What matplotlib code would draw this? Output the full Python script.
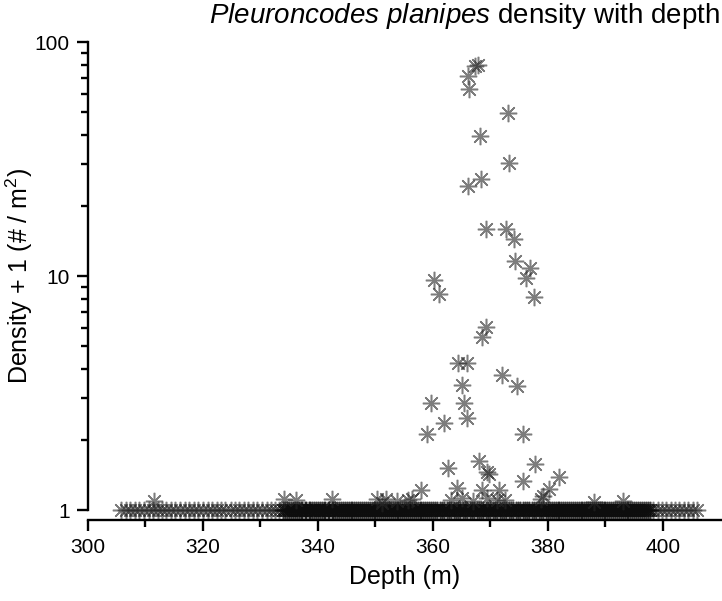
import numpy as np
import matplotlib
matplotlib.use('Agg')
import matplotlib.pyplot as plt

plt.rcParams['font.family'] = ['Liberation Sans', 'DejaVu Sans']
plt.rcParams['mathtext.fontset'] = 'custom'
plt.rcParams['mathtext.rm'] = 'Liberation Sans'
plt.rcParams['mathtext.it'] = 'Liberation Sans:italic'

# stations with no animals (density + 1 = 1)
zero_depth_shallow = [305.8, 306.6, 307.3, 308.2, 308.9, 309.7, 310.6, 311.3, 312.1, 312.9,
                      313.6, 314.5, 315.2, 316.0, 316.9, 317.6, 318.4, 319.2, 320.0, 320.8,
                      321.5, 322.4, 323.1, 323.9, 324.8, 325.5, 326.3, 327.1, 327.8, 328.7,
                      329.4, 330.2, 331.1, 331.8, 332.6, 333.3]
zero_depth_mid = [334.0, 334.3, 334.7, 335.0, 335.4, 335.7, 336.0, 336.4, 336.7, 337.0,
                  337.3, 337.7, 338.0, 338.4, 338.7, 339.0, 339.3, 339.7, 340.0, 340.4,
                  340.7, 341.0, 341.3, 341.7, 342.0, 342.4, 342.7, 343.0, 343.4, 343.7,
                  344.0, 344.3, 344.7, 345.0, 345.4, 345.7, 346.0, 346.3, 346.7, 347.0,
                  347.4, 347.7, 348.0, 348.3, 348.7, 349.0, 349.4, 349.7, 350.0, 350.3,
                  350.7, 351.0, 351.4, 351.7, 352.0, 352.3, 352.7, 353.0, 353.4, 353.7,
                  354.0, 354.3, 354.7, 355.0, 355.4, 355.7, 356.0, 356.3, 356.7, 357.0,
                  357.4, 357.7, 358.0, 358.3, 358.7, 359.0, 359.4, 359.7, 360.0, 360.4,
                  360.8, 361.2, 361.6, 362.0, 362.4, 362.8, 363.2, 363.6, 364.0, 364.4,
                  364.8, 365.2, 365.6, 366.0, 366.4, 366.8, 367.2, 367.6, 368.0, 368.4,
                  368.8, 369.2, 369.6, 370.0, 370.4, 370.8, 371.2, 371.6, 372.0, 372.4,
                  372.8, 373.2, 373.6, 374.0, 374.4, 374.8, 375.2, 375.6, 376.0, 376.4,
                  376.8, 377.2, 377.6, 378.0, 378.4, 378.8, 379.2, 379.6, 380.0, 380.3,
                  380.7, 381.0, 381.4, 381.7, 382.0, 382.3, 382.7, 383.0, 383.4, 383.7,
                  384.0, 384.3, 384.7, 385.0, 385.4, 385.7, 386.0, 386.3, 386.7, 387.0,
                  387.4, 387.7, 388.0, 388.3, 388.7, 389.0, 389.4, 389.7, 390.0, 390.3,
                  390.7, 391.0, 391.4, 391.7, 392.0, 392.3, 392.7, 393.0, 393.4, 393.7,
                  394.0, 394.3, 394.7, 395.0, 395.4, 395.7, 396.0, 396.3, 396.7, 397.0,
                  397.4, 397.7]
zero_depth_deep = [398.3, 399.1, 399.8, 400.6, 401.4, 402.1, 402.9, 403.7, 404.4, 405.2, 406.0]

# stations with animals
depth = [367.4, 367.8, 366.1, 366.3, 373.0, 368.2, 373.2, 368.3, 366.1, 369.2,
         372.7, 374.1, 374.3, 376.9, 376.2, 377.6, 360.2, 361.0, 369.2, 368.5,
         364.3, 365.9, 372.0, 374.6, 365.0, 359.7, 365.4, 365.9, 361.9, 359.0,
         375.7, 362.6, 368.0, 369.4, 369.7, 377.7, 375.6, 382.0, 380.2, 379.1,
         378.8, 388.0, 393.0, 357.9, 356.3, 364.2, 363.1, 365.0, 367.0, 368.5,
         369.4, 371.5, 371.1, 372.5, 311.5, 334.1, 336.2, 342.4, 350.3, 351.1,
         351.8, 353.7, 355.6]
density1 = [79.0, 79.5, 71.6, 63.0, 49.7, 39.6, 30.4, 26.0, 24.2, 15.9,
            15.9, 14.4, 11.6, 10.8, 9.8, 8.1, 9.6, 8.4, 6.05, 5.5,
            4.25, 4.25, 3.78, 3.39, 3.42, 2.87, 2.87, 2.47, 2.35, 2.11,
            2.11, 1.51, 1.62, 1.45, 1.43, 1.57, 1.33, 1.38, 1.23, 1.15,
            1.11, 1.08, 1.09, 1.22, 1.11, 1.24, 1.10, 1.12, 1.09, 1.22,
            1.12, 1.22, 1.10, 1.10, 1.09, 1.11, 1.10, 1.11, 1.11, 1.07,
            1.11, 1.09, 1.10]

fig = plt.figure(figsize=(7.22, 6.01), dpi=100)
ax = fig.add_axes([88 / 722, 1 - 510 / 601, 1 - 88 / 722, 468 / 601])

star = dict(linestyle='none', marker=(8, 2, 0), ms=12.5, mew=1.1,
            color='0.15', alpha=0.6, clip_on=False)
ax.plot(zero_depth_shallow, np.ones(len(zero_depth_shallow)), **star)
ax.plot(zero_depth_deep, np.ones(len(zero_depth_deep)), **star)
ax.plot(zero_depth_mid, np.ones(len(zero_depth_mid)), **dict(star, alpha=0.8, color='0.05'))
ax.plot(depth, density1, **star)

ax.set_yscale('log')
ax.set_ylim(1, 100)
ax.set_xlim(300, 410.3)
ax.set_xticks([300, 320, 340, 360, 380, 400])
ax.set_xticks([310, 330, 350, 370, 390], minor=True)
ax.set_yticks([1, 10, 100])
ax.set_yticklabels(['1', '10', '100'])

for s in ['top', 'right']:
    ax.spines[s].set_visible(False)
ax.spines['bottom'].set_position(('outward', 7))
for s in ['left', 'bottom']:
    ax.spines[s].set_linewidth(1.7)
ax.tick_params(which='major', length=8, width=1.7, labelsize=15, pad=5)
ax.tick_params(which='minor', length=5, width=1.7)

ax.set_xlabel('Depth (m)', fontsize=18, labelpad=6)
ax.set_ylabel('Density + 1 (# / m$^2$)', fontsize=18, labelpad=0)

fig.text(464 / 722, 1 - 16 / 601,
         r'$\it{Pleuroncodes}$ $\it{planipes}$ density with depth',
         ha='center', va='center', fontsize=20)

fig.savefig('out.png', dpi=100)
